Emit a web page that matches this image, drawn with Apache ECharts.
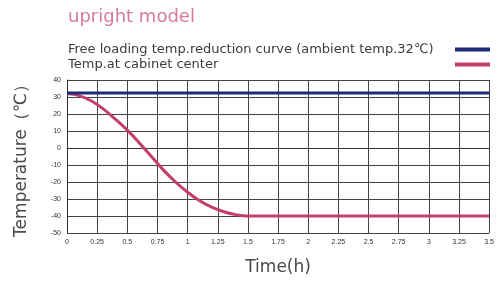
<!DOCTYPE html>
<html>
<head>
<meta charset="utf-8">
<script src="https://cdn.jsdelivr.net/npm/echarts@6/dist/echarts.min.js"></script>
<style>
  html, body { margin: 0; padding: 0; background: #fff; }
  #chart { width: 497px; height: 281px; }
</style>
</head>
<body>
<div id="chart"></div>
<script>
// 环境温度（水平线）
var ambientTimes = [0, 3.5]
var ambientTemps = [32.3, 32.3]
// 箱体中心温度
var centerTimes = [0, 0.1, 0.2, 0.3, 0.4, 0.5, 0.6, 0.7, 0.8, 0.9, 1.0, 1.1, 1.2, 1.3, 1.4, 1.5, 1.75, 2.0, 2.5, 3.0, 3.5]
var centerTemps = [32, 30.8, 27.8, 23, 17, 10.5, 3, -5, -13, -20, -26, -31, -34.8, -37.5, -39.2, -40, -40, -40, -40, -40, -40]
var seriesNames = ['Free loading temp.reduction curve (ambient temp.32℃)', 'Temp.at cabinet center']

function pairs (xs, ys) {
  return xs.map(function (x, i) { return [x, ys[i]] })
}

var chart = echarts.init(document.getElementById('chart'))
var opt = {
  animation: false,
  title: {
    text: 'upright model',
    left: 63,
    top: 3,
    textStyle: { fontSize: 18, fontWeight: 'normal', color: '#d77a9d', fontFamily: 'DejaVu Sans' }
  },
  legend: {
    orient: 'vertical',
    left: 63,
    top: 38,
    align: 'right',
    itemGap: 2,
    itemWidth: 35,
    itemHeight: 4,
    icon: 'rect',
    formatter: function (name) { return '{a|' + name + '}' },
    textStyle: {
      fontSize: 13,
      color: '#3c3c3c',
      fontFamily: 'DejaVu Sans',
      rich: { a: { width: 382, lineHeight: 13, align: 'left', fontSize: 13, color: '#3c3c3c', fontFamily: 'DejaVu Sans' } }
    },
    data: seriesNames
  },
  grid: { left: 67, right: 6, top: 80, bottom: 48 },
  xAxis: {
    type: 'value',
    min: 0,
    max: 3.5,
    interval: 0.25,
    name: 'Time(h)',
    nameLocation: 'middle',
    nameGap: 26,
    nameTextStyle: { fontSize: 17, color: '#4a4a4a', fontFamily: 'DejaVu Sans' },
    axisLine: { lineStyle: { color: '#333' } },
    axisTick: { show: false },
    axisLabel: { fontSize: 7, color: '#333', margin: 6 },
    splitLine: { lineStyle: { color: '#444', width: 1 } }
  },
  yAxis: {
    type: 'value',
    min: -50,
    max: 40,
    interval: 10,
    name: 'Temperature（℃）',
    nameLocation: 'middle',
    nameGap: 37,
    nameTextStyle: { fontSize: 17, color: '#4a4a4a', fontFamily: 'DejaVu Sans' },
    axisLine: { show: true, lineStyle: { color: '#333' } },
    axisTick: { show: false },
    axisLabel: { fontSize: 7, color: '#333', margin: 6 },
    splitLine: { lineStyle: { color: '#444', width: 1 } }
  },
  series: [
    {
      name: seriesNames[0],
      type: 'line',
      data: pairs(ambientTimes, ambientTemps),
      showSymbol: false,
      lineStyle: { color: '#1c2a7a', width: 3 },
      itemStyle: { color: '#1c2a7a' },
      z: 3
    },
    {
      name: seriesNames[1],
      type: 'line',
      smooth: 0.4,
      data: pairs(centerTimes, centerTemps),
      showSymbol: false,
      lineStyle: { color: '#c43e6c', width: 3 },
      itemStyle: { color: '#c43e6c' },
      z: 2
    }
  ]
}
chart.setOption(opt)
</script>
</body>
</html>
